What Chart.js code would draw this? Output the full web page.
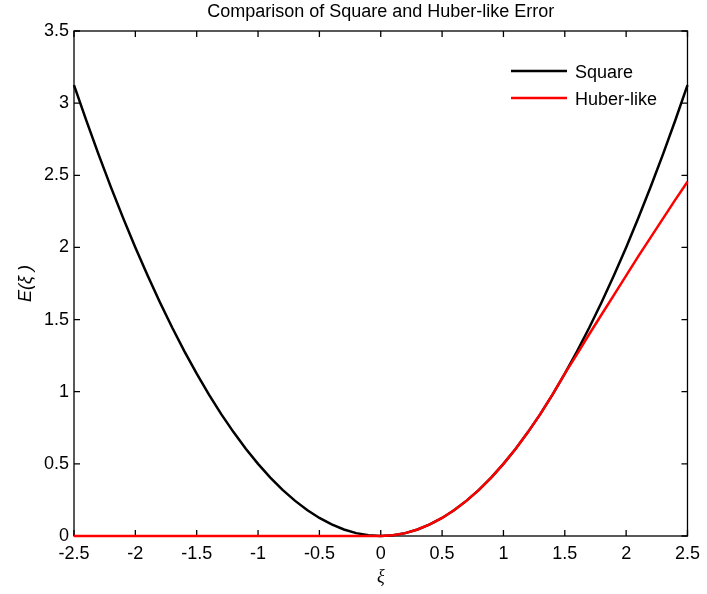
<!DOCTYPE html>
<html>
<head>
<meta charset="utf-8">
<script src="https://cdn.jsdelivr.net/npm/chart.js@4.4.1/dist/chart.umd.min.js"></script>
<style>
  body { margin: 0; background: #fff; }
  #wrap { width: 707px; height: 594px; }
</style>
</head>
<body>
<div id="wrap"><canvas id="chart" width="707" height="594"></canvas></div>
<script>
// xi sample points and the two error curves
const xi = [-2.5, -2.4, -2.3, -2.2, -2.1, -2.0, -1.9, -1.8, -1.7, -1.6, -1.5, -1.4, -1.3, -1.2, -1.1, -1.0,
            -0.9, -0.8, -0.7, -0.6, -0.5, -0.4, -0.3, -0.2, -0.1, 0.0, 0.1, 0.2, 0.3, 0.4, 0.5, 0.6, 0.7,
            0.8, 0.9, 1.0, 1.1, 1.2, 1.3, 1.4, 1.5, 1.6, 1.7, 1.8, 1.9, 2.0, 2.1, 2.2, 2.3, 2.4, 2.5];
const squareErr = [3.125, 2.88, 2.645, 2.42, 2.205, 2.0, 1.805, 1.62, 1.445, 1.28, 1.125, 0.98, 0.845, 0.72, 0.605, 0.5,
                   0.405, 0.32, 0.245, 0.18, 0.125, 0.08, 0.045, 0.02, 0.005, 0.0, 0.005, 0.02, 0.045, 0.08, 0.125, 0.18, 0.245,
                   0.32, 0.405, 0.5, 0.605, 0.72, 0.845, 0.98, 1.125, 1.28, 1.445, 1.62, 1.805, 2.0, 2.205, 2.42, 2.645, 2.88, 3.125];
const huberErr = [0, 0, 0, 0, 0, 0, 0, 0, 0, 0, 0, 0, 0, 0, 0, 0,
                  0, 0, 0, 0, 0, 0, 0, 0, 0, 0, 0.005, 0.02, 0.045, 0.08, 0.125, 0.18, 0.245,
                  0.32, 0.405, 0.5, 0.605, 0.72, 0.845, 0.98, 1.125, 1.26, 1.40, 1.535, 1.67, 1.805, 1.94, 2.07, 2.20, 2.33, 2.455];
const seriesNames = ['Square', 'Huber-like'];
const xTicks = [-2.5, -2, -1.5, -1, -0.5, 0, 0.5, 1, 1.5, 2, 2.5];
const yTicks = [0, 0.5, 1, 1.5, 2, 2.5, 3, 3.5];
const chartTitle = 'Comparison of Square and Huber-like Error';

const FONT = "'Liberation Sans', Arial, sans-serif";
const FS = 18;

function pts(ys) {
  return xi.map((x, i) => ({ x: x, y: ys[i] }));
}
function fmt(v) {
  return String(Number(v.toFixed(2)));
}

// box, inward ticks, title and legend drawn the old matlab way
const matlabFrame = {
  id: 'matlabFrame',
  beforeDatasetsDraw(chart) {
    const { ctx, chartArea: a, scales } = chart;
    const len = 6;
    ctx.save();
    ctx.strokeStyle = '#000';
    ctx.lineWidth = 1.3;
    ctx.strokeRect(a.left, a.top, a.right - a.left, a.bottom - a.top);
    ctx.beginPath();
    xTicks.forEach(v => {
      const px = scales.x.getPixelForValue(v);
      ctx.moveTo(px, a.bottom); ctx.lineTo(px, a.bottom - len);
      ctx.moveTo(px, a.top); ctx.lineTo(px, a.top + len);
    });
    yTicks.forEach(v => {
      const py = scales.y.getPixelForValue(v);
      ctx.moveTo(a.left, py); ctx.lineTo(a.left + len, py);
      ctx.moveTo(a.right, py); ctx.lineTo(a.right - len, py);
    });
    ctx.stroke();
    ctx.restore();
  },
  afterDraw(chart) {
    const { ctx, chartArea: a } = chart;
    ctx.save();
    ctx.fillStyle = '#000';
    ctx.font = FS + 'px ' + FONT;
    ctx.textAlign = 'center';
    ctx.textBaseline = 'middle';
    ctx.fillText(chartTitle, (a.left + a.right) / 2, 12);

    // legend, top right inside the axes
    ctx.textAlign = 'left';
    chart.data.datasets.forEach((ds, i) => {
      const y = 71 + i * 27;
      ctx.strokeStyle = ds.borderColor;
      ctx.lineWidth = 2.5;
      ctx.beginPath();
      ctx.moveTo(511, y);
      ctx.lineTo(567, y);
      ctx.stroke();
      ctx.fillText(ds.label, 575, y + 2);
    });
    ctx.restore();
  }
};

new Chart(document.getElementById('chart'), {
  type: 'line',
  data: {
    datasets: [
      { label: seriesNames[0], data: pts(squareErr), borderColor: '#000000', borderWidth: 2.5,
        pointRadius: 0, tension: 0, fill: false, clip: false, order: 1 },
      { label: seriesNames[1], data: pts(huberErr), borderColor: '#ff0000', borderWidth: 2.5,
        pointRadius: 0, tension: 0, fill: false, clip: false, order: 0 }
    ]
  },
  options: {
    responsive: false,
    animation: false,
    layout: { padding: { top: 31, right: 14, left: 0, bottom: 0 } },
    plugins: {
      legend: { display: false },
      title: { display: false },
      tooltip: { enabled: false }
    },
    scales: {
      x: {
        type: 'linear',
        min: -2.5,
        max: 2.5,
        grid: { display: false, drawTicks: false },
        border: { display: false },
        afterBuildTicks: s => { s.ticks = xTicks.map(v => ({ value: v })); },
        afterFit: s => { s.height = 58; },
        ticks: { color: '#000', padding: 7, maxRotation: 0, autoSkip: false,
                 font: { family: FONT, size: FS }, callback: v => fmt(v) },
        title: { display: true, text: 'ξ', color: '#000',
                 font: { family: "'Liberation Serif', 'DejaVu Serif', serif", size: FS, style: 'italic' },
                 padding: { top: 0, bottom: 6 } }
      },
      y: {
        type: 'linear',
        min: 0,
        max: 3.5,
        grid: { display: false, drawTicks: false },
        border: { display: false },
        afterBuildTicks: s => { s.ticks = yTicks.map(v => ({ value: v })); },
        afterFit: s => { s.width = 74; },
        ticks: { color: '#000', padding: 5, autoSkip: false,
                 font: { family: FONT, size: FS }, callback: v => fmt(v) },
        title: { display: true, text: 'E(ξ )', color: '#000',
                 font: { family: FONT, size: FS, style: 'italic' },
                 padding: { top: 15, bottom: 0 } }
      }
    }
  },
  plugins: [matlabFrame]
});
</script>
</body>
</html>
